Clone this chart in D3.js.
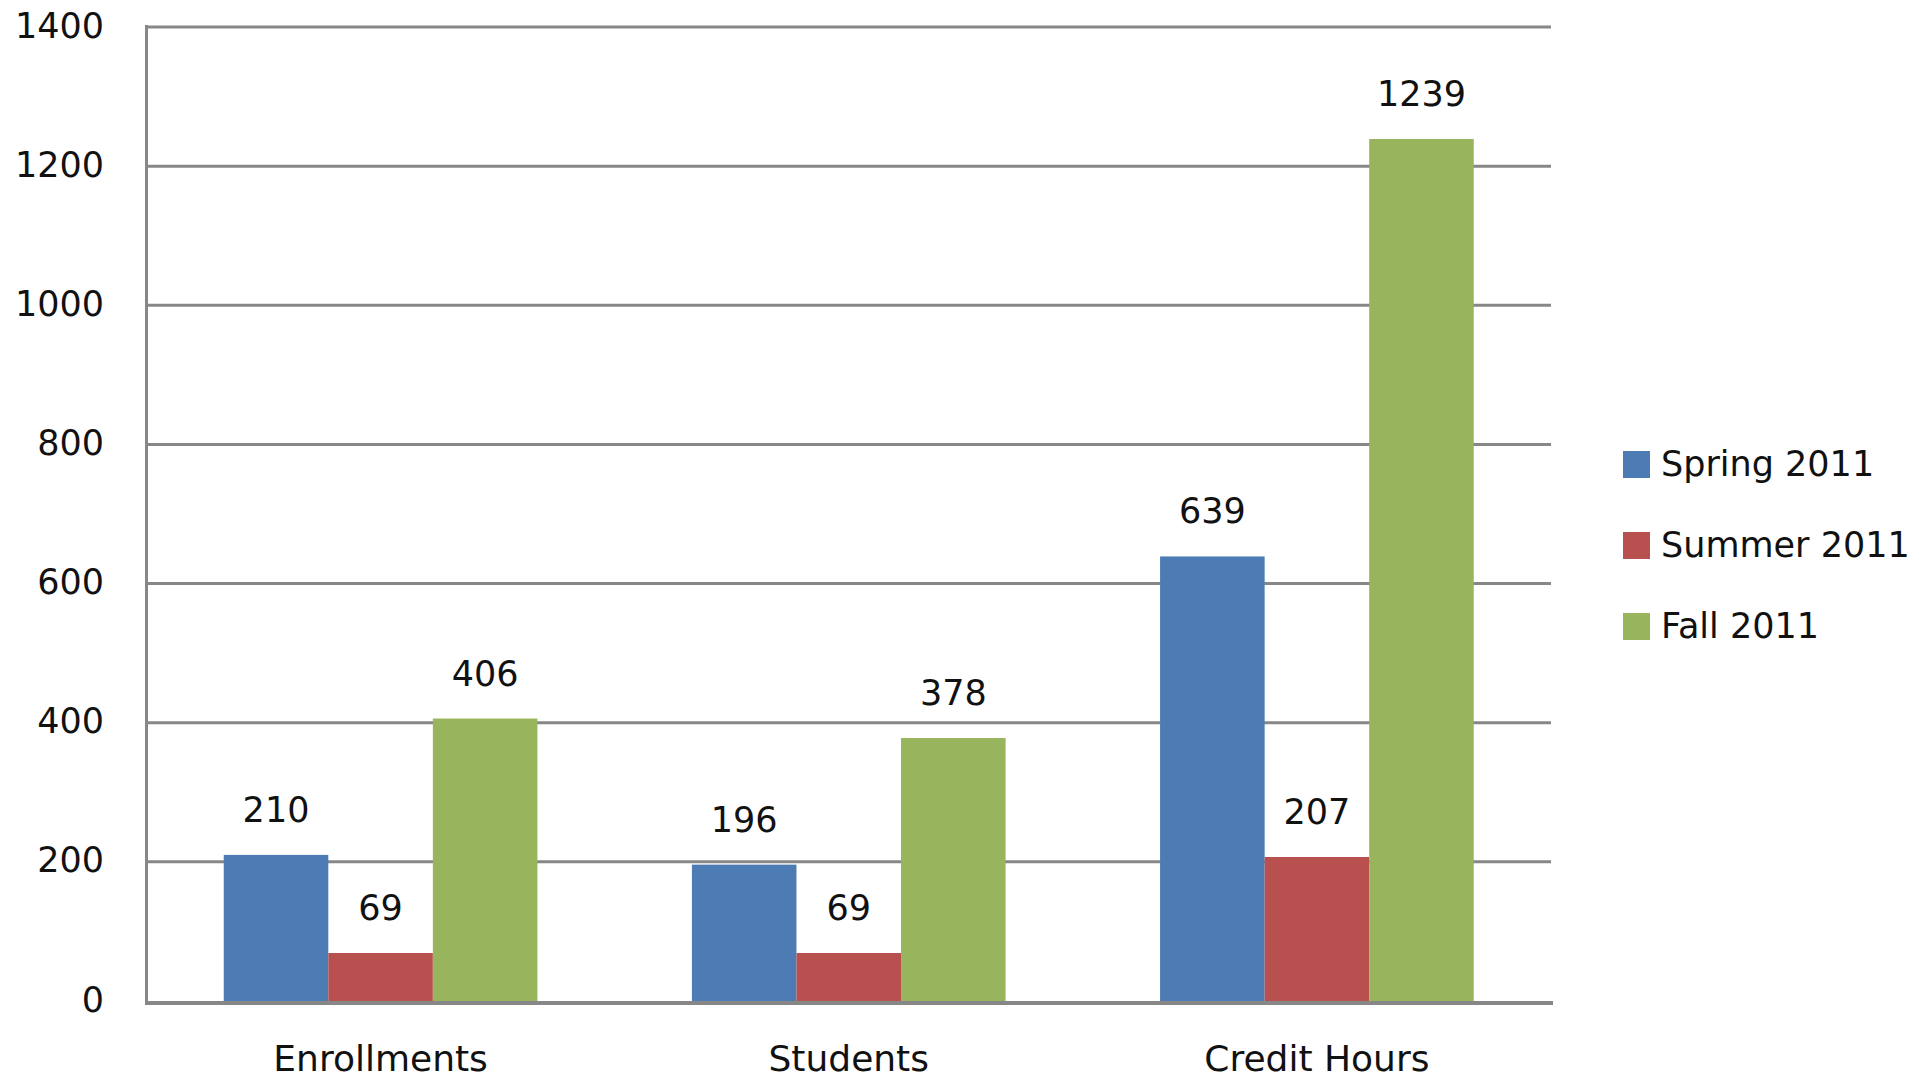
<!DOCTYPE html>
<html>
<head>
<meta charset="utf-8">
<script src="https://cdn.jsdelivr.net/npm/d3@7"></script>
<style>
  body { margin: 0; background: #fff; }
  svg text { font-family: "DejaVu Sans", sans-serif; fill: #111; }
</style>
</head>
<body>
<div id="chart"></div>
<script>
// data
var categories = ["Enrollments", "Students", "Credit Hours"];
var seriesNames = ["Spring 2011", "Summer 2011", "Fall 2011"];
var spring = [210, 196, 639];
var summer = [69, 69, 207];
var fall = [406, 378, 1239];
var yTicks = [0, 200, 400, 600, 800, 1000, 1200, 1400];
var colors = ["#4d7bb4", "#b8504f", "#98b45c"];

var width = 1919, height = 1079;
var plotLeft = 146.5, plotRight = 1551, plotTop = 27, plotBottom = 1001;

var svg = d3.select("#chart").append("svg")
    .attr("width", width)
    .attr("height", height);

var y = d3.scaleLinear().domain([0, 1400]).range([plotBottom, plotTop]);
var x0 = d3.scaleBand().domain(categories).range([plotLeft, plotRight]).paddingInner(0.33).paddingOuter(0.165);
var x1 = d3.scaleBand().domain(seriesNames).range([0, x0.bandwidth()]);

var values = [spring, summer, fall];

// gridlines
svg.selectAll("line.grid")
  .data(yTicks.filter(function(d) { return d > 0; }))
  .enter().append("line")
    .attr("class", "grid")
    .attr("x1", plotLeft)
    .attr("x2", plotRight)
    .attr("y1", function(d) { return y(d); })
    .attr("y2", function(d) { return y(d); })
    .attr("stroke", "#878787")
    .attr("stroke-width", 3);

// tick labels
svg.selectAll("text.tick")
  .data(yTicks)
  .enter().append("text")
    .attr("class", "tick")
    .attr("x", 104)
    .attr("y", function(d) { return y(d); })
    .attr("dy", "0.3em")
    .attr("text-anchor", "end")
    .style("font-size", "35px")
    .text(function(d) { return d; });

// bars
seriesNames.forEach(function(s, si) {
  var g = svg.append("g");
  g.selectAll("rect")
    .data(values[si])
    .enter().append("rect")
      .attr("x", function(d, i) { return x0(categories[i]) + x1(s); })
      .attr("y", function(d) { return y(d); })
      .attr("width", x1.bandwidth())
      .attr("height", function(d) { return y(0) - y(d); })
      .attr("fill", colors[si]);
  g.selectAll("text")
    .data(values[si])
    .enter().append("text")
      .attr("x", function(d, i) { return x0(categories[i]) + x1(s) + x1.bandwidth() / 2; })
      .attr("y", function(d) { return y(d) - 33; })
      .attr("text-anchor", "middle")
      .style("font-size", "35px")
      .text(function(d) { return d; });
});

// axes
svg.append("line")
  .attr("x1", plotLeft).attr("x2", plotLeft)
  .attr("y1", plotTop - 2).attr("y2", plotBottom + 4)
  .attr("stroke", "#878787").attr("stroke-width", 3);
svg.append("line")
  .attr("x1", plotLeft - 1.5).attr("x2", plotRight + 2)
  .attr("y1", plotBottom + 2).attr("y2", plotBottom + 2)
  .attr("stroke", "#878787").attr("stroke-width", 4);

// category labels
svg.selectAll("text.cat")
  .data(categories)
  .enter().append("text")
    .attr("class", "cat")
    .attr("x", function(d) { return x0(d) + x0.bandwidth() / 2; })
    .attr("y", 1071)
    .attr("text-anchor", "middle")
    .style("font-size", "36px")
    .text(function(d) { return d; });

// legend
var legend = svg.selectAll("g.legend")
  .data(seriesNames)
  .enter().append("g")
    .attr("class", "legend")
    .attr("transform", function(d, i) { return "translate(1623," + (451 + i * 81) + ")"; });
legend.append("rect")
  .attr("width", 27).attr("height", 27)
  .attr("fill", function(d, i) { return colors[i]; });
legend.append("text")
  .attr("x", 38)
  .attr("y", 25)
  .style("font-size", "35px")
  .text(function(d) { return d; });
</script>
</body>
</html>
